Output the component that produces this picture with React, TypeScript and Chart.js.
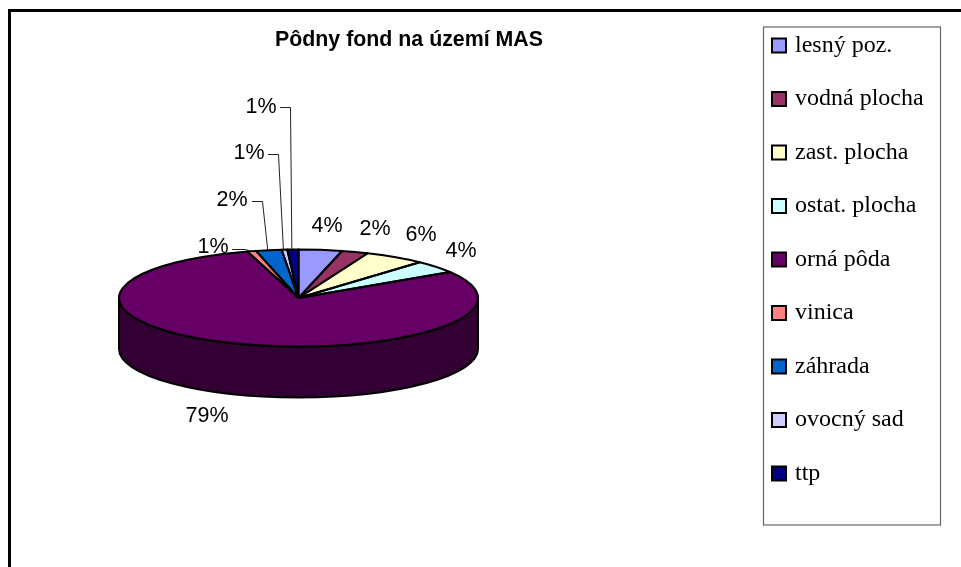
import React, { useEffect, useRef } from "react";
import { Chart, registerables } from "chart.js";

Chart.register(...registerables);

const categories = ["lesný poz.", "vodná plocha", "zast. plocha", "ostat. plocha", "orná pôda", "vinica", "záhrada", "ovocný sad", "ttp"];
const shares = [3.9, 2.4, 5.5, 4.2, 79.4, 0.8, 2.3, 0.5, 1.0];
const colors = ["#9999FF", "#993366", "#FFFFCC", "#CCFFFF", "#660066", "#FF8080", "#0066CC", "#CCCCFF", "#000080"];
const chartTitle = "Pôdny fond na území MAS";

// label centres in page pixels, and the elbow of a leader line where there is one
const labelCentres = [[327, 226], [375, 229], [421, 235], [461, 251], [207, 416], [213, 247], [232, 200], [249, 153], [261, 107]];
const leaderStarts: (number[] | null)[] = [null, null, null, null, null, [232, 249], [252, 201], [268, 154], [280, 107]];
const leaderElbows: (number[] | null)[] = [null, null, null, null, null, [245, 249], [262, 201], [278, 154], [290, 107]];

const PIE = { cx: 298.5, cy: 298, rx: 179.5, ry: 48.5, depth: 51 };
const LEGEND_PAD = 29.5;
const LEGEND_FONT = 24;

const dim = (hex: string) => {
  const n = parseInt(hex.slice(1), 16);
  const c = (v: number) => Math.round(v / 2);
  return `rgb(${c((n >> 16) & 255)},${c((n >> 8) & 255)},${c(n & 255)})`;
};

const pie3d = {
  id: "pie3d",
  afterLayout(chart: any) {
    const t = chart.titleBlock;
    t.left = 275; t.right = 543; t.top = 27.2; t.bottom = 53;
    const l = chart.legend;
    l.left = 772 - LEGEND_PAD; l.right = 940; l.top = 4; l.bottom = 560;
  },
  beforeDraw(chart: any) {
    const { ctx } = chart;
    ctx.save();
    ctx.fillStyle = "#fff";
    ctx.fillRect(0, 0, chart.width, chart.height);
    ctx.strokeStyle = "#000";
    ctx.lineWidth = 3;
    ctx.strokeRect(9.5, 10.5, chart.width + 20, chart.height + 20);
    ctx.strokeStyle = "#666";
    ctx.lineWidth = 1.2;
    ctx.strokeRect(763.5, 27, 177, 498);
    ctx.restore();
  },
  beforeDatasetsDraw(chart: any) {
    const { ctx } = chart;
    const arcs = chart.getDatasetMeta(0).data;
    ctx.save();
    ctx.lineWidth = 2;
    ctx.strokeStyle = "#000";
    arcs.forEach((a: any, i: number) => {
      const s = Math.max(a.startAngle, 0);
      const e = Math.min(a.endAngle, Math.PI);
      if (e <= s) return;
      ctx.beginPath();
      ctx.ellipse(PIE.cx, PIE.cy, PIE.rx, PIE.ry, 0, s, e);
      ctx.ellipse(PIE.cx, PIE.cy + PIE.depth, PIE.rx, PIE.ry, 0, e, s, true);
      ctx.closePath();
      ctx.fillStyle = dim(colors[i]);
      ctx.fill();
      ctx.stroke();
    });
    ctx.restore();
    const a0 = arcs[0];
    ctx.save();
    ctx.translate(PIE.cx, PIE.cy);
    ctx.scale(PIE.rx / a0.outerRadius, PIE.ry / a0.outerRadius);
    ctx.translate(-a0.x, -a0.y);
  },
  afterDatasetsDraw(chart: any) {
    const { ctx } = chart;
    ctx.restore();
    const arcs = chart.getDatasetMeta(0).data;
    ctx.save();
    ctx.lineWidth = 2;
    ctx.strokeStyle = "#000";
    ctx.lineJoin = "round";
    arcs.forEach((a: any) => {
      ctx.beginPath();
      ctx.moveTo(PIE.cx, PIE.cy);
      ctx.ellipse(PIE.cx, PIE.cy, PIE.rx, PIE.ry, 0, a.startAngle, a.endAngle);
      ctx.closePath();
      ctx.stroke();
    });
    // leader lines
    ctx.lineWidth = 1;
    ctx.strokeStyle = "#222";
    arcs.forEach((a: any, i: number) => {
      const st = leaderStarts[i];
      const el = leaderElbows[i];
      if (!st || !el) return;
      const mid = (a.startAngle + a.endAngle) / 2;
      ctx.beginPath();
      ctx.moveTo(st[0], st[1] + 0.5);
      ctx.lineTo(el[0] + 0.5, el[1] + 0.5);
      ctx.lineTo(PIE.cx + PIE.rx * Math.cos(mid) - 1, PIE.cy + PIE.ry * Math.sin(mid));
      ctx.stroke();
    });
    // percentage labels
    ctx.fillStyle = "#000";
    ctx.font = '21.5px "Liberation Sans"';
    ctx.textAlign = "center";
    ctx.textBaseline = "middle";
    shares.forEach((v, i) => {
      ctx.fillText(`${Math.round(v)}%`, labelCentres[i][0], labelCentres[i][1]);
    });
    ctx.restore();
  },
  afterDraw(chart: any) {
    // legend swatches: the legend's own boxes are too narrow for the reference's text offset
    const { ctx } = chart;
    const l = chart.legend;
    ctx.save();
    ctx.lineWidth = 2;
    ctx.strokeStyle = "#000";
    colors.forEach((c, i) => {
      const y = l.top + LEGEND_PAD + i * (LEGEND_FONT + LEGEND_PAD) + (LEGEND_FONT - 14) / 2;
      ctx.fillStyle = c;
      ctx.fillRect(772, y, 14, 14);
      ctx.strokeRect(772, y, 14, 14);
    });
    ctx.restore();
  },
};

export default function App() {
  const ref = useRef<HTMLCanvasElement>(null);
  useEffect(() => {
    const chart = new Chart(ref.current!, {
      type: "pie",
      data: {
        labels: categories,
        datasets: [{ data: shares, backgroundColor: colors, borderWidth: 0, clip: false } as any],
      },
      options: {
        responsive: false,
        animation: false,
        plugins: {
          tooltip: { enabled: false },
          title: {
            display: true,
            text: chartTitle,
            color: "#000",
            padding: 0,
            font: { family: '"Liberation Sans"', size: 21.4, weight: "bold" },
          },
          legend: {
            display: true,
            position: "right",
            align: "start",
            labels: {
              color: "#000",
              boxWidth: 11,
              boxHeight: 14,
              padding: LEGEND_PAD,
              font: { family: '"Liberation Serif"', size: LEGEND_FONT },
              generateLabels() {
                return categories.map((text, i) => ({
                  text,
                  fillStyle: colors[i],
                  strokeStyle: "#000",
                  lineWidth: 0,
                  hidden: false,
                  index: i,
                }));
              },
            },
          },
        },
      } as any,
      plugins: [pie3d],
    });
    return () => chart.destroy();
  }, []);
  return (
    <div style={{ position: "absolute", left: 0, top: 0, width: 961, height: 567 }}>
      <canvas ref={ref} width={961} height={567} style={{ display: "block" }} />
    </div>
  );
}
